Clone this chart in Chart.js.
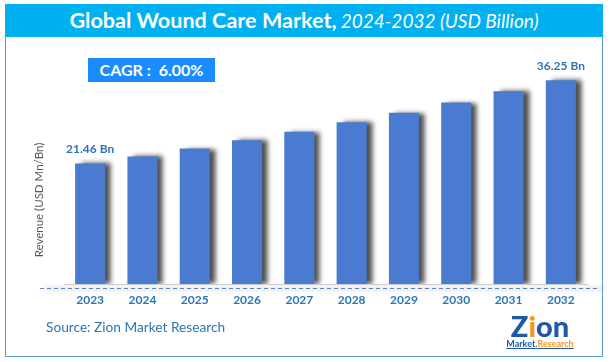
<!DOCTYPE html>
<html>
<head>
<meta charset="utf-8">
<script src="https://cdn.jsdelivr.net/npm/chart.js@4/dist/chart.umd.min.js"></script>
<style>
  html, body { margin:0; padding:0; background:#fff; }
  body { width:611px; height:362px; position:relative; overflow:hidden; font-family: Lato, "Open Sans", sans-serif; }
  #frame { position:absolute; left:5px; top:4px; width:596px; height:351px; border:1.5px solid #5b9bd5; box-sizing:content-box; }
  #titlebar { position:absolute; left:5px; top:4px; width:598px; height:33px; background:#00b0f0; color:#fff; text-align:center; line-height:33px; white-space:nowrap; }
  #titlebar b { font-size:21.6px; font-weight:700; }
  #titlebar i { font-size:19px; font-weight:400; }
  #cagr { position:absolute; left:88px; top:58px; width:127px; height:24px; background:#1a8cff; color:#fff; font-weight:700; font-size:16px; line-height:24px; text-align:center; white-space:pre; }
  #source { position:absolute; left:46px; top:318px; font-size:13.7px; color:#2e75b6; white-space:nowrap; }
  #logo { position:absolute; left:504px; top:312px; width:72px; text-align:center; }
  #logo .z { font-size:29px; font-weight:900; color:#1f5aa6; letter-spacing:0px; line-height:27px; }
  #logo .z span { color:#f7941d; }
  #logo .m { font-size:9px; font-weight:700; color:#1f5aa6; text-decoration:underline; line-height:10px; white-space:nowrap; }
  #logo .m span { color:#f7941d; }
  canvas { position:absolute; left:0; top:0; }
</style>
</head>
<body>
<canvas id="c" width="611" height="362"></canvas>
<div id="frame"></div>
<div id="titlebar"><b>Global Wound Care Market,</b> <i>2024-2032 (USD Billion)</i></div>
<div id="cagr">CAGR :  6.00%</div>
<div id="source">Source: Zion Market Research</div>
<div id="logo"><div class="z">Z<span>i</span>on</div><div class="m">Market.<span>Research</span></div></div>
<script>
const categories = ["2023","2024","2025","2026","2027","2028","2029","2030","2031","2032"];
const revenue = [21.46, 22.7, 24.1, 25.6, 27.1, 28.8, 30.5, 32.3, 34.3, 36.25];
const labelledIndexes = [0, 9];
const yAxisTitle = "Revenue (USD Mn/Bn)";

const shadowPlugin = {
  id: 'shadow',
  beforeDatasetsDraw(chart) {
    const ctx = chart.ctx;
    ctx.save();
    ctx.shadowColor = 'rgba(0,0,0,0.7)';
    ctx.shadowOffsetX = 6;
    ctx.shadowOffsetY = 0;
    ctx.shadowBlur = 5;
  },
  afterDatasetsDraw(chart) {
    chart.ctx.restore();
  }
};

const decorPlugin = {
  id: 'decor',
  beforeDatasetsDraw(chart) {
    const ctx = chart.ctx;
    const y0 = chart.scales.y.getPixelForValue(0);
    ctx.save();
    ctx.strokeStyle = '#5b85c8';
    ctx.lineWidth = 1;
    ctx.setLineDash([4, 3]);
    ctx.beginPath();
    ctx.moveTo(40, Math.round(y0) + 4.5);
    ctx.lineTo(598, Math.round(y0) + 4.5);
    ctx.stroke();
    ctx.restore();
  },
  afterDatasetsDraw(chart) {
    const ctx = chart.ctx;
    const meta = chart.getDatasetMeta(0);
    ctx.save();
    ctx.fillStyle = '#2e75b6';
    ctx.font = 'bold 12px Lato, sans-serif';
    ctx.textAlign = 'center';
    ctx.textBaseline = 'middle';
    labelledIndexes.forEach(i => {
      const el = meta.data[i];
      ctx.fillText(revenue[i].toFixed(2) + ' Bn', el.x, el.y - 14);
    });
    ctx.fillStyle = '#595959';
    ctx.font = '11.5px Lato, sans-serif';
    ctx.translate(39, 200);
    ctx.rotate(-Math.PI / 2);
    ctx.fillText(yAxisTitle, 0, 0);
    ctx.restore();
  }
};

new Chart(document.getElementById('c'), {
  type: 'bar',
  data: {
    labels: categories,
    datasets: [{
      data: revenue,
      backgroundColor: '#4a7bd0',
      borderWidth: 0,
      barPercentage: 0.575,
      categoryPercentage: 1.0
    }]
  },
  options: {
    responsive: false,
    animation: false,
    devicePixelRatio: 1,
    layout: { padding: { left: 64, right: 24, top: 59.3, bottom: 45.6 } },
    plugins: { legend: { display: false }, tooltip: { enabled: false }, title: { display: false } },
    scales: {
      x: {
        grid: { display: false, drawTicks: false },
        border: { display: true, color: '#d0d0d0', width: 1 },
        ticks: { color: '#2e75b6', font: { family: 'Lato, sans-serif', size: 12, weight: 'bold' }, padding: 9 }
      },
      y: {
        display: false,
        min: 0,
        max: 40
      }
    }
  },
  plugins: [shadowPlugin, decorPlugin]
});
</script>
</body>
</html>
